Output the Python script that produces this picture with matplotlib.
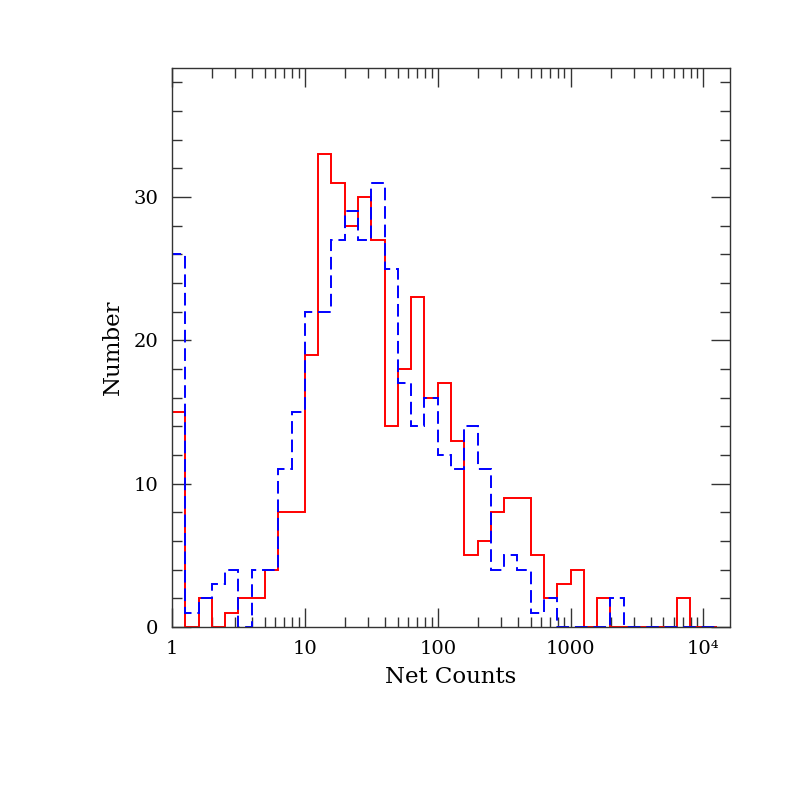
import numpy as np
import matplotlib
matplotlib.use("Agg")
import matplotlib.pyplot as plt
from matplotlib.ticker import FixedLocator, LogLocator, NullFormatter, MultipleLocator

# log10 bin width 0.1 dex, starting at 1 count
bin_exponents = np.arange(42) * 0.1

red_counts = [15, 0, 2, 0, 1, 2, 2, 4, 8, 8, 19, 33, 31, 28, 30, 27, 14, 18, 23, 16,
              17, 13, 5, 6, 8, 9, 9, 5, 2, 3, 4, 0, 2, 0, 0, 0, 0, 0, 2, 0, 0]
blue_counts = [26, 1, 2, 3, 4, 0, 4, 4, 11, 15, 22, 22, 27, 29, 27, 31, 25, 17, 14, 16,
               12, 11, 14, 11, 4, 5, 4, 1, 2, 0, 0, 0, 0, 2, 0, 0, 0, 0, 0, 0, 0]

x_ticks = [1, 10, 100, 1000, 10000]
x_tick_labels = ["1", "10", "100", "1000", "10\u2074"]
y_ticks = [0, 10, 20, 30]

plt.rcParams['font.family'] = ['DejaVu Serif']

fig = plt.figure(figsize=(7.97, 7.97), dpi=100)
ax = fig.add_axes([172/797, 1-627/797, (730-172)/797, (627-68)/797])

edges = 10 ** bin_exponents
ax.stairs(red_counts, edges, color='#ff0000', lw=1.4, baseline=0, zorder=2)
ax.stairs(blue_counts, edges, color='#0000ff', lw=1.4, baseline=0,
          linestyle=(0, (6.5, 3.0)), zorder=3)

ax.set_xscale('log')
ax.set_xlim(1, 10 ** 4.2)
ax.set_ylim(0, 39)

ax.xaxis.set_major_locator(FixedLocator(x_ticks))
ax.set_xticklabels(x_tick_labels)
ax.xaxis.set_minor_locator(LogLocator(base=10, subs=np.arange(2, 10)))
ax.xaxis.set_minor_formatter(NullFormatter())
ax.yaxis.set_major_locator(FixedLocator(y_ticks))
ax.yaxis.set_minor_locator(MultipleLocator(2))

ax.tick_params(which='both', direction='in', top=True, right=True, color='#333333')
ax.tick_params(which='major', length=14, width=1.0, labelsize=14)
ax.tick_params(which='minor', length=7, width=1.0)
ax.tick_params(axis='x', which='major', pad=9)
ax.tick_params(axis='y', which='major', pad=10)

for s in ax.spines.values():
    s.set_linewidth(1.0)
    s.set_color('#333333')
    s.set_zorder(4)

ax.set_xlabel("Net Counts", fontsize=16.5, labelpad=6)
ax.set_ylabel("Number", fontsize=16.5, labelpad=7)

fig.savefig("out.png", dpi=100)
